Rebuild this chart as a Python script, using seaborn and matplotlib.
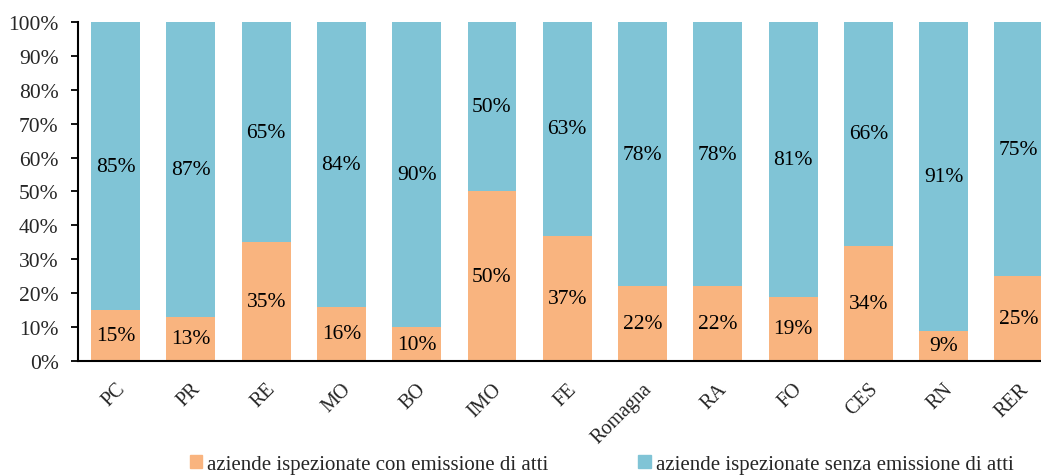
import matplotlib
matplotlib.use("Agg")
import matplotlib.pyplot as plt
import matplotlib.patches as mpatches
import pandas as pd
import seaborn as sns

# data
categories = ["PC", "PR", "RE", "MO", "BO", "IMO", "FE", "Romagna", "RA", "FO", "CES", "RN", "RER"]
con_atti = [15, 13, 35, 16, 10, 50, 37, 22, 22, 19, 34, 9, 25]
senza_atti = [85, 87, 65, 84, 90, 50, 63, 78, 78, 81, 66, 91, 75]
legend_labels = ["aziende ispezionate con emissione di atti",
                 "aziende ispezionate senza emissione di atti"]

orange = "#F9B47F"
blue = "#80C4D6"

sns.set_style("white")
plt.rcParams["font.family"] = ["Liberation Serif", "DejaVu Serif"]

df = pd.DataFrame({"cat": categories, "con": con_atti, "senza": senza_atti})
df["totale"] = df["con"] + df["senza"]

fig = plt.figure(figsize=(10.41, 4.77), dpi=100)
ax = fig.add_axes([0.0749, 0.241, 0.940, 0.711])

# blue = full stack, orange drawn on top of it
sns.barplot(data=df, x="cat", y="totale", color=blue, width=0.65,
            saturation=1, linewidth=0, ax=ax, order=categories)
sns.barplot(data=df, x="cat", y="con", color=orange, width=0.65,
            saturation=1, linewidth=0, ax=ax, order=categories)

for i, (c, s) in enumerate(zip(con_atti, senza_atti)):
    ax.text(i, c / 2, f"{c}%", ha="center", va="center", fontsize=15.5, color="black")
    ax.text(i, c + s / 2, f"{s}%", ha="center", va="center", fontsize=15.5, color="black")

ax.set_ylim(0, 100)
ax.set_xlim(-0.5, len(categories) - 0.5)
ax.set_yticks(range(0, 101, 10))
ax.set_yticklabels([f"{v}%" for v in range(0, 101, 10)], fontsize=15.5)
ax.set_xticks(range(len(categories)))
ax.set_xticklabels(categories, rotation=45, ha="right", rotation_mode="anchor", fontsize=14.5)
ax.set_xlabel("")
ax.set_ylabel("")

sns.despine(ax=ax, top=True, right=True)
for side in ["left", "bottom"]:
    ax.spines[side].set_color("black")
    ax.spines[side].set_linewidth(1.5)
ax.tick_params(axis="y", which="both", left=True, length=5, width=1.3, color="black", pad=9)
ax.tick_params(axis="x", length=0, pad=13)

handles = [mpatches.Patch(color=orange), mpatches.Patch(color=blue)]
fig.legend(handles, legend_labels, loc="lower center", bbox_to_anchor=(0.578, -0.035),
           ncol=2, frameon=False, fontsize=15, handlelength=0.6, handleheight=0.6,
           handletextpad=0.25, columnspacing=4.3)

fig.savefig("out.png", dpi=100)
